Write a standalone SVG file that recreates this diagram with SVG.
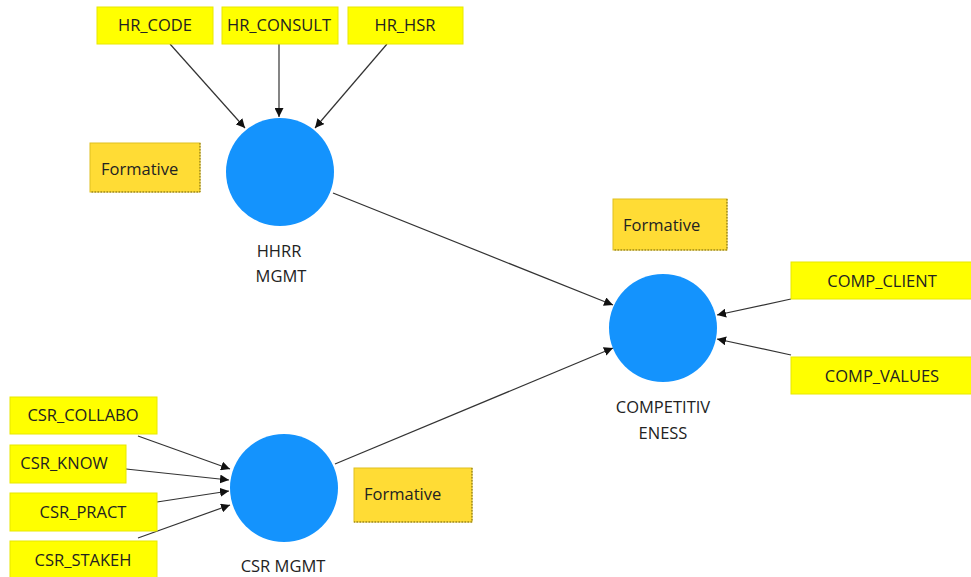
<svg xmlns="http://www.w3.org/2000/svg" width="971" height="577" viewBox="0 0 971 577">
<style>
.ind{fill:#ffff00;stroke:#e8e800;stroke-width:1}
.frm{fill:#ffdc35;stroke:#e0c020;stroke-width:1}
.dot{stroke:#7a6a10;stroke-width:1;stroke-dasharray:1.5 1.5;fill:none}
.lv{fill:#1493fd}
text{font-family:"Open Sans","Noto Sans","Liberation Sans",sans-serif;font-size:16.5px;fill:#222}
.c{text-anchor:middle}
.ln{stroke:#333;stroke-width:1.2;fill:none;marker-end:url(#ah)}
</style>
<defs>
<marker id="ah" viewBox="0 0 10 10" refX="10" refY="5" markerWidth="9" markerHeight="9" markerUnits="userSpaceOnUse" orient="auto">
<path d="M0,0 L10,5 L0,10 z" fill="#111"/>
</marker>
</defs>
<rect width="971" height="577" fill="#fff"/>
<g id="connectors">
<line class="ln" x1="170" y1="44" x2="245" y2="128"/>
<line class="ln" x1="279" y1="44" x2="279" y2="117"/>
<line class="ln" x1="387" y1="44" x2="315" y2="128"/>
<line class="ln" x1="333" y1="193" x2="613" y2="305"/>
<line class="ln" x1="335" y1="464" x2="613" y2="348"/>
<line class="ln" x1="791" y1="299" x2="717" y2="315"/>
<line class="ln" x1="791" y1="355" x2="717" y2="339"/>
<line class="ln" x1="138" y1="436" x2="230" y2="469"/>
<line class="ln" x1="126" y1="469" x2="229" y2="480"/>
<line class="ln" x1="157" y1="502" x2="229" y2="491"/>
<line class="ln" x1="138" y1="538" x2="230" y2="505"/>
</g>
<g id="HR_CODE"><rect class="ind" x="97" y="7" width="116" height="37"/><text class="c" x="155" y="31">HR_CODE</text></g>
<g id="HR_CONSULT"><rect class="ind" x="222" y="7" width="116" height="37"/><text class="c" x="279" y="31">HR_CONSULT</text></g>
<g id="HR_HSR"><rect class="ind" x="348" y="7" width="115" height="37"/><text class="c" x="405" y="31">HR_HSR</text></g>
<g id="HHRR_MGMT"><circle class="lv" cx="280" cy="172" r="54"/><text class="c" x="279" y="257">HHRR</text><text class="c" x="281" y="282">MGMT</text></g>
<g id="formative1"><rect class="frm" x="90" y="143" width="110" height="49"/><path class="dot" d="M200,143 V192 H90"/><text x="101" y="175">Formative</text></g>
<g id="COMPETITIVENESS"><circle class="lv" cx="663" cy="328" r="54"/><text class="c" x="663" y="413">COMPETITIV</text><text class="c" x="663" y="439">ENESS</text></g>
<g id="formative2"><rect class="frm" x="613" y="199" width="114" height="51"/><path class="dot" d="M727,199 V250 H613"/><text x="623" y="231">Formative</text></g>
<g id="COMP_CLIENT"><rect class="ind" x="791" y="262" width="182" height="37"/><text class="c" x="882" y="287">COMP_CLIENT</text></g>
<g id="COMP_VALUES"><rect class="ind" x="791" y="357" width="182" height="37"/><text class="c" x="882" y="382">COMP_VALUES</text></g>
<g id="CSR_COLLABO"><rect class="ind" x="10" y="397" width="147" height="37"/><text class="c" x="83" y="421">CSR_COLLABO</text></g>
<g id="CSR_KNOW"><rect class="ind" x="10" y="445" width="116" height="38"/><text class="c" x="64" y="469">CSR_KNOW</text></g>
<g id="CSR_PRACT"><rect class="ind" x="10" y="493" width="147" height="38"/><text class="c" x="83" y="518">CSR_PRACT</text></g>
<g id="CSR_STAKEH"><rect class="ind" x="10" y="541" width="147" height="40"/><text class="c" x="83" y="566">CSR_STAKEH</text></g>
<g id="CSR_MGMT"><circle class="lv" cx="284" cy="488" r="54"/><text class="c" x="283" y="572">CSR MGMT</text></g>
<g id="formative3"><rect class="frm" x="354" y="468" width="118" height="54"/><path class="dot" d="M472,468 V522 H354"/><text x="364" y="500">Formative</text></g>
</svg>
